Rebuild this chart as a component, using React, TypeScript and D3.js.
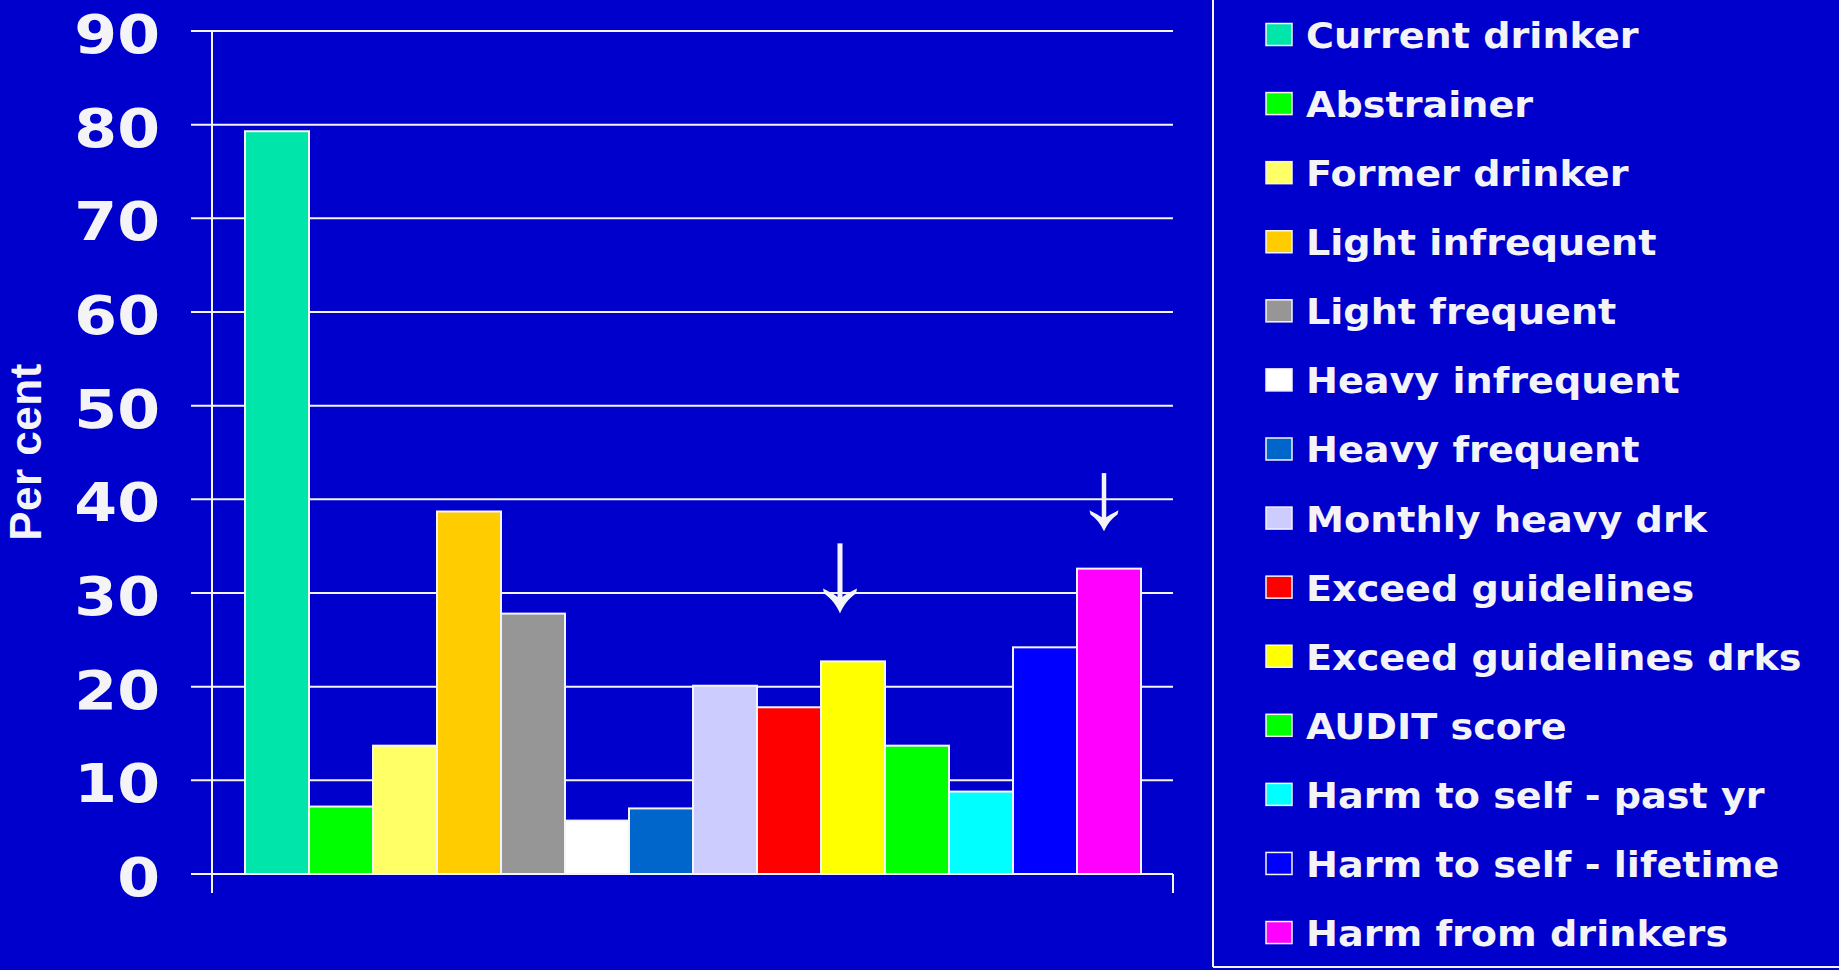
import React from "react";
import * as d3 from "d3";

// Drinking status / harm categories, in bar order
const categories = [
  "Current drinker",
  "Abstrainer",
  "Former drinker",
  "Light infrequent",
  "Light frequent",
  "Heavy infrequent",
  "Heavy frequent",
  "Monthly heavy drk",
  "Exceed guidelines",
  "Exceed guidelines drks",
  "AUDIT score",
  "Harm to self - past yr",
  "Harm to self - lifetime",
  "Harm from drinkers",
];

// Percent of respondents in each category
const values = [79.3, 7.2, 13.7, 38.7, 27.8, 5.7, 7.0, 20.1, 17.8, 22.7, 13.7, 8.8, 24.2, 32.6];

const colors = [
  "#00E5AA",
  "#00FF00",
  "#FFFF66",
  "#FFCC00",
  "#969696",
  "#FFFFFF",
  "#0066CC",
  "#CCCCFF",
  "#FF0000",
  "#FFFF00",
  "#00FF00",
  "#00FFFF",
  "#0000FF",
  "#FF00FF",
];

const yTicks = [0, 10, 20, 30, 40, 50, 60, 70, 80, 90];

// Downward arrows pointing at two of the bars (values in percent units)
const arrows = [
  { category: "Exceed guidelines drks", from: 35.3, to: 27.8, dx: -13, head: 25, half: 17, width: 5 },
  { category: "Harm from drinkers", from: 42.8, to: 36.6, dx: -5, head: 21, half: 14.5, width: 4.5 },
];

const W = 1839;
const H = 970;
const BG = "#0000CC";
const INK = "#F4F4F6";
const FONT = "'DejaVu Sans', Verdana, sans-serif";

// Broad chevron arrowhead with curved flanks, tip at (x, tip)
function arrowHead(x: number, tip: number, h: number, w: number, sw: number): string {
  const s = sw / 2;
  const p = d3.path();
  p.moveTo(x, tip);
  p.bezierCurveTo(x - 3, tip - h * 0.3, x - w * 0.5, tip - h * 0.6, x - w + 1, tip - h * 0.8);
  p.lineTo(x - w, tip - h);
  p.bezierCurveTo(x - w * 0.6, tip - h * 0.85, x - s - 2, tip - h * 0.75, x - s, tip - h * 0.66);
  p.lineTo(x + s, tip - h * 0.66);
  p.bezierCurveTo(x + s + 2, tip - h * 0.75, x + w * 0.6, tip - h * 0.85, x + w, tip - h);
  p.lineTo(x + w - 1, tip - h * 0.8);
  p.bezierCurveTo(x + w * 0.5, tip - h * 0.6, x + 3, tip - h * 0.3, x, tip);
  p.closePath();
  return p.toString();
}

export default function App() {
  const axisX = 212;
  const axisRight = 1173;
  const tickLeft = 191;

  const y = d3.scaleLinear().domain([0, 90]).range([874, 31]);
  const x = d3.scaleBand<string>().domain(categories).range([245, 1141]).paddingInner(0).paddingOuter(0);

  const legendX = 1266;
  const legendBase = 48;
  const legendStep = 69.08;

  return (
    <svg
      width={W}
      height={H}
      viewBox={`0 0 ${W} ${H}`}
      style={{ position: "fixed", left: 0, top: 0, display: "block" }}
    >
      <rect x={0} y={0} width={W} height={H} fill={BG} />

      {/* grid lines with left tick stubs */}
      {yTicks.map((t) => (
        <line
          key={"g" + t}
          x1={tickLeft}
          x2={axisRight}
          y1={y(t)}
          y2={y(t)}
          stroke={INK}
          strokeWidth={2}
        />
      ))}

      {/* y axis and right end tick */}
      <line x1={axisX} x2={axisX} y1={y(90)} y2={893} stroke={INK} strokeWidth={2} />
      <line x1={axisRight} x2={axisRight} y1={y(0)} y2={893} stroke={INK} strokeWidth={2} />

      {/* tick labels */}
      {yTicks.map((t) => (
        <text
          key={"t" + t}
          transform={`translate(160,${y(t) + 22}) scale(1.14,1)`}
          textAnchor="end"
          fill={INK}
          fontFamily={FONT}
          fontWeight="bold"
          fontSize={54}
        >
          {t}
        </text>
      ))}

      {/* axis title */}
      <text
        transform={`translate(41,452) rotate(-90)`}
        textAnchor="middle"
        fill={INK}
        fontFamily="'Liberation Sans', Arial, sans-serif"
        fontWeight="bold"
        fontSize={44}
        letterSpacing={0.5}
      >
        Per cent
      </text>

      {/* bars */}
      {categories.map((c, i) => (
        <rect
          key={"b" + c}
          x={x(c)!}
          y={y(values[i])}
          width={x.bandwidth()}
          height={y(0) - y(values[i])}
          fill={colors[i]}
          stroke={INK}
          strokeWidth={2}
        />
      ))}

      {/* arrows */}
      {arrows.map((a) => {
        const ax = x(a.category)! + x.bandwidth() / 2 + a.dx;
        const top = y(a.from);
        const tip = y(a.to);
        return (
          <g key={"a" + a.category}>
            <line
              x1={ax}
              x2={ax}
              y1={top}
              y2={tip - a.head * 0.5}
              stroke={INK}
              strokeWidth={a.width}
            />
            <path d={arrowHead(ax, tip, a.head, a.half, a.width)} fill={INK} />
          </g>
        );
      })}

      {/* legend frame */}
      <line x1={1213} x2={1213} y1={0} y2={967} stroke={INK} strokeWidth={2} />
      <line x1={1213} x2={W} y1={967} y2={967} stroke={INK} strokeWidth={2} />

      {/* legend */}
      {categories.map((c, i) => {
        const base = legendBase + i * legendStep;
        return (
          <g key={"l" + c}>
            <rect
              x={legendX}
              y={base - 24.5}
              width={26}
              height={22}
              fill={colors[i]}
              stroke={INK}
              strokeWidth={1.5}
            />
            <text
              transform={`translate(1306,${base}) scale(1.09,1)`}
              fill={INK}
              fontFamily={FONT}
              fontWeight="bold"
              fontSize={35}
            >
              {c}
            </text>
          </g>
        );
      })}
    </svg>
  );
}
